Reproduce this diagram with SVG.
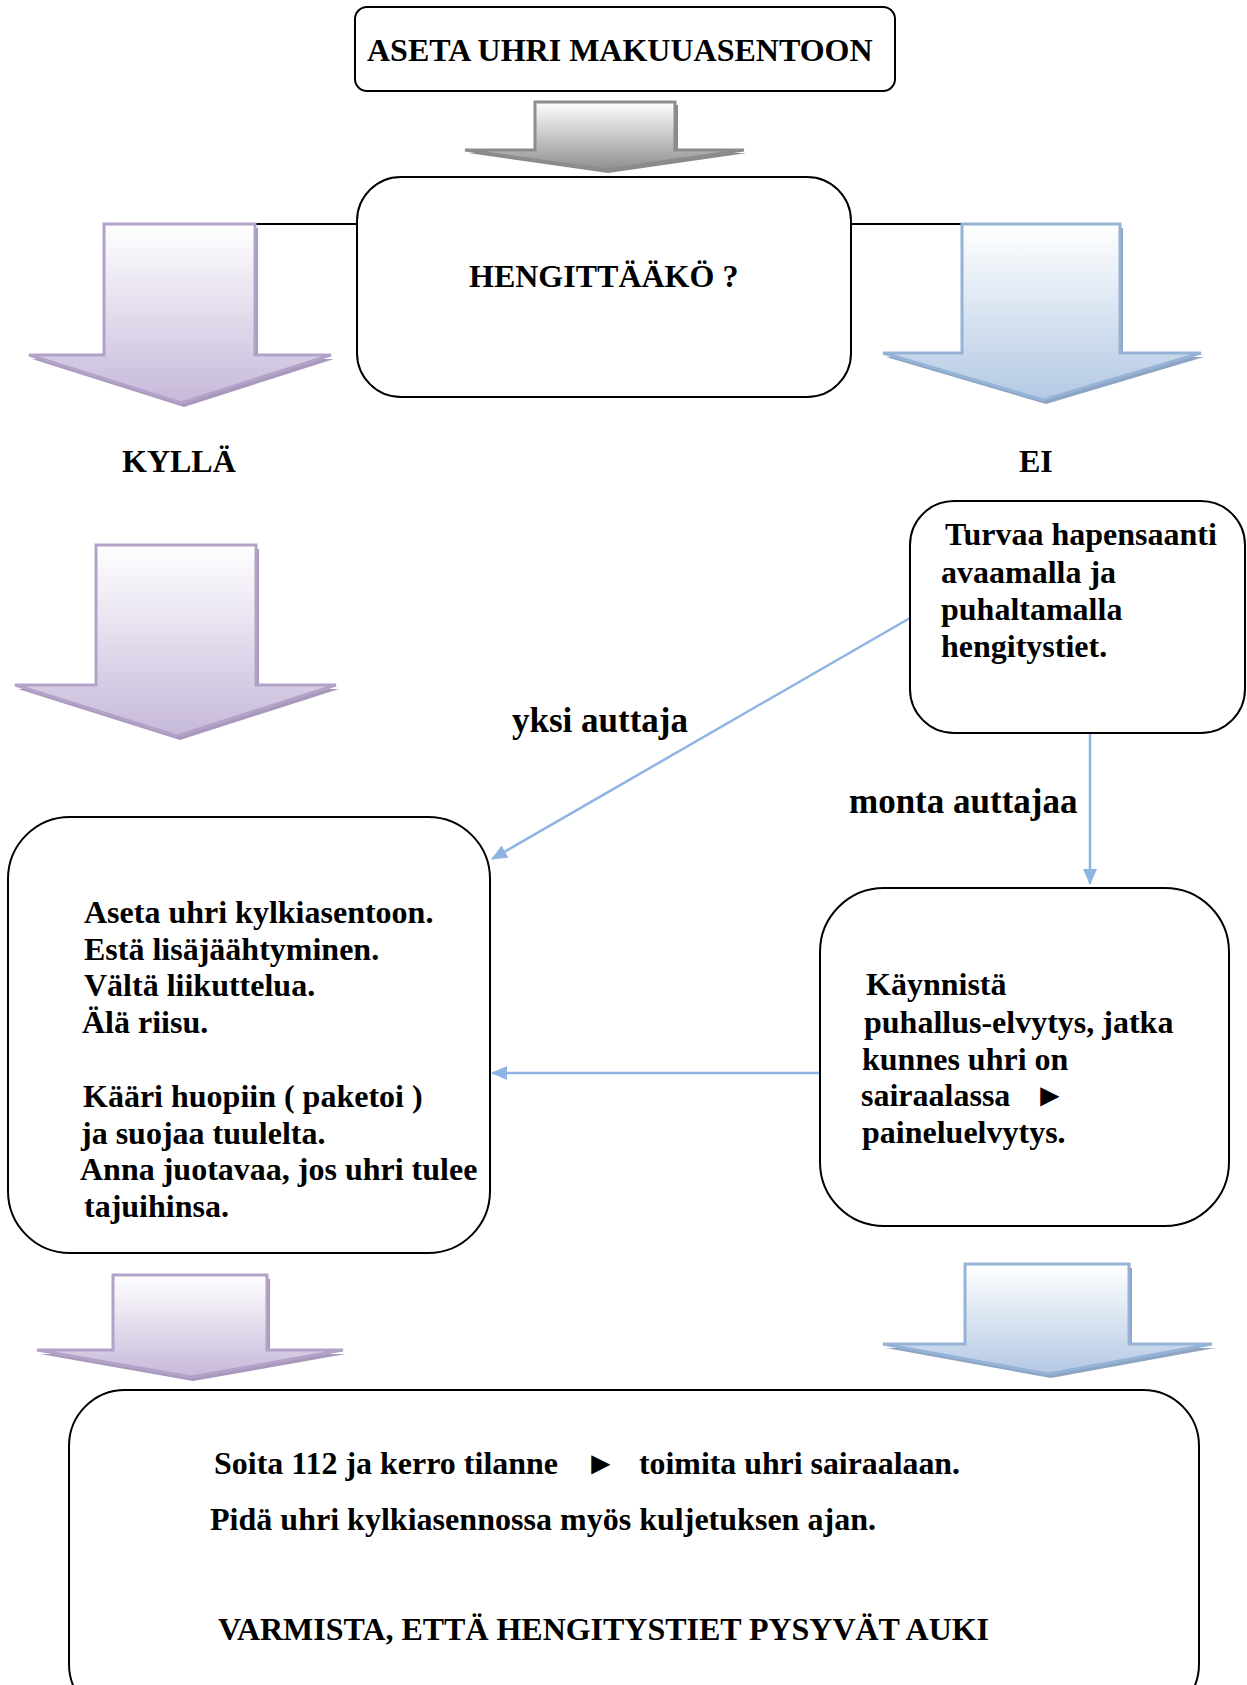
<svg xmlns="http://www.w3.org/2000/svg" width="1247" height="1685" viewBox="0 0 1247 1685">
<style>
.box{fill:#fff;stroke:#000;stroke-width:2}
.t{font-family:"Liberation Serif","Times New Roman",serif;font-weight:bold;font-size:32px;fill:#000}
.lb{font-size:35px}
.conn{stroke:#8eb4e3;stroke-width:2.5;fill:none}
.blk{stroke:#000;stroke-width:2;fill:none}
.pur{fill:url(#gp);stroke:#b3a2c7;stroke-width:3}
.blu{fill:url(#gb);stroke:#95b3d7;stroke-width:3}
.gry{fill:url(#gg);stroke:#8c8c8c;stroke-width:3}
.sp{fill:#a898bb}
.sb{fill:#8da4c2}
.sg{fill:#8a8a8a}
</style>
<defs>
<linearGradient id="gp" x1="0" y1="0" x2="0" y2="1"><stop offset="0" stop-color="#ffffff"/><stop offset="1" stop-color="#c6b9da"/></linearGradient>
<linearGradient id="gb" x1="0" y1="0" x2="0" y2="1"><stop offset="0" stop-color="#ffffff"/><stop offset="1" stop-color="#b4c9e4"/></linearGradient>
<linearGradient id="gg" x1="0" y1="0" x2="0" y2="1"><stop offset="0" stop-color="#ffffff"/><stop offset="1" stop-color="#8f8f8f"/></linearGradient>
<marker id="ahb" markerWidth="16" markerHeight="14" refX="15" refY="7" orient="auto" markerUnits="userSpaceOnUse" viewBox="0 0 16 14"><path d="M0,0 L16,7 L0,14 Z" fill="#8eb4e3"/></marker>
</defs>

<g id="connectors">
<line class="blk" x1="172" y1="224" x2="357" y2="224"/>
<line class="blk" x1="851" y1="224" x2="1034" y2="224"/>
<line class="conn" x1="910" y1="618" x2="492" y2="859" marker-end="url(#ahb)"/>
<line class="conn" x1="1090" y1="733" x2="1090" y2="884" marker-end="url(#ahb)"/>
<line class="conn" x1="820" y1="1073" x2="492" y2="1073" marker-end="url(#ahb)"/>
</g>

<g id="arrow-top">
<path class="sg" d="M538 105 H678 V153 H747 L608 173 L468 153 H538 Z"/>
<path class="gry" d="M535 102 H675 V150 H744 L605 170 L465 150 H535 Z"/>
</g>
<g id="arrow-left-1">
<path class="sp" d="M107 228 H258 V359 H334 L184 407 L32 359 H107 Z"/>
<path class="pur" d="M104 224 H255 V355 H331 L181 403 L29 355 H104 Z"/>
</g>
<g id="arrow-right-1">
<path class="sb" d="M965 228 H1123 V357 H1204 L1046 404 L886 357 H965 Z"/>
<path class="blu" d="M962 224 H1120 V353 H1201 L1043 400 L883 353 H962 Z"/>
</g>
<g id="arrow-left-2">
<path class="sp" d="M99 549 H259 V689 H339 L180 740 L18 689 H99 Z"/>
<path class="pur" d="M96 545 H256 V685 H336 L177 736 L15 685 H96 Z"/>
</g>
<g id="arrow-left-3">
<path class="sp" d="M116 1279 H270 V1354 H346 L193 1381 L40 1354 H116 Z"/>
<path class="pur" d="M113 1275 H267 V1350 H343 L191 1377 L37 1350 H113 Z"/>
</g>
<g id="arrow-right-3">
<path class="sb" d="M968 1268 H1132 V1348 H1215 L1051 1378 L886 1348 H968 Z"/>
<path class="blu" d="M965 1264 H1129 V1344 H1212 L1048 1374 L883 1344 H965 Z"/>
</g>

<g id="node-aseta">
<rect class="box" x="355" y="7" width="540" height="84" rx="12"/>
<text class="t" x="367" y="61">ASETA UHRI MAKUUASENTOON</text>
</g>
<g id="node-hengittaako">
<rect class="box" x="357" y="177" width="494" height="220" rx="44"/>
<text class="t" x="469" y="287">HENGITTÄÄKÖ ?</text>
</g>
<g id="label-kylla"><text class="t" x="122" y="472">KYLLÄ</text></g>
<g id="label-ei"><text class="t" x="1019" y="472">EI</text></g>
<g id="node-turvaa">
<rect class="box" x="910" y="501" width="335" height="232" rx="44"/>
<text class="t" x="945" y="545">Turvaa hapensaanti</text>
<text class="t" x="941" y="583">avaamalla ja</text>
<text class="t" x="941" y="620">puhaltamalla</text>
<text class="t" x="941" y="657">hengitystiet.</text>
</g>
<g id="label-yksi"><text class="t lb" x="512" y="732">yksi auttaja</text></g>
<g id="label-monta"><text class="t lb" x="849" y="813">monta auttajaa</text></g>
<g id="node-kylki">
<rect class="box" x="8" y="817" width="482" height="436" rx="62"/>
<text class="t" x="84" y="923">Aseta uhri kylkiasentoon.</text>
<text class="t" x="84" y="960">Estä lisäjäähtyminen.</text>
<text class="t" x="84" y="996">Vältä liikuttelua.</text>
<text class="t" x="82" y="1033">Älä riisu.</text>
<text class="t" x="83" y="1107">Kääri huopiin ( paketoi )</text>
<text class="t" x="81" y="1144">ja suojaa tuulelta.</text>
<text class="t" x="80" y="1180">Anna juotavaa, jos uhri tulee</text>
<text class="t" x="84" y="1217">tajuihinsa.</text>
</g>
<g id="node-kaynnista">
<rect class="box" x="820" y="888" width="409" height="338" rx="64"/>
<text class="t" x="866" y="995">Käynnistä</text>
<text class="t" x="864" y="1033">puhallus-elvytys, jatka</text>
<text class="t" x="862" y="1070">kunnes uhri on</text>
<text class="t" x="861" y="1106">sairaalassa</text>
<text class="t" x="1034" y="1106">►</text>
<text class="t" x="862" y="1143">paineluelvytys.</text>
</g>
<g id="node-soita">
<rect class="box" x="69" y="1390" width="1130" height="330" rx="56"/>
<text class="t" x="214" y="1474" textLength="344" lengthAdjust="spacingAndGlyphs">Soita 112 ja kerro tilanne</text>
<text class="t" x="585" y="1474">►</text>
<text class="t" x="639" y="1474" textLength="321" lengthAdjust="spacingAndGlyphs">toimita uhri sairaalaan.</text>
<text class="t" x="210" y="1530" textLength="666" lengthAdjust="spacingAndGlyphs">Pidä uhri kylkiasennossa myös kuljetuksen ajan.</text>
<text class="t" x="218" y="1640" textLength="771" lengthAdjust="spacingAndGlyphs">VARMISTA, ETTÄ HENGITYSTIET PYSYVÄT AUKI</text>
</g>
</svg>
